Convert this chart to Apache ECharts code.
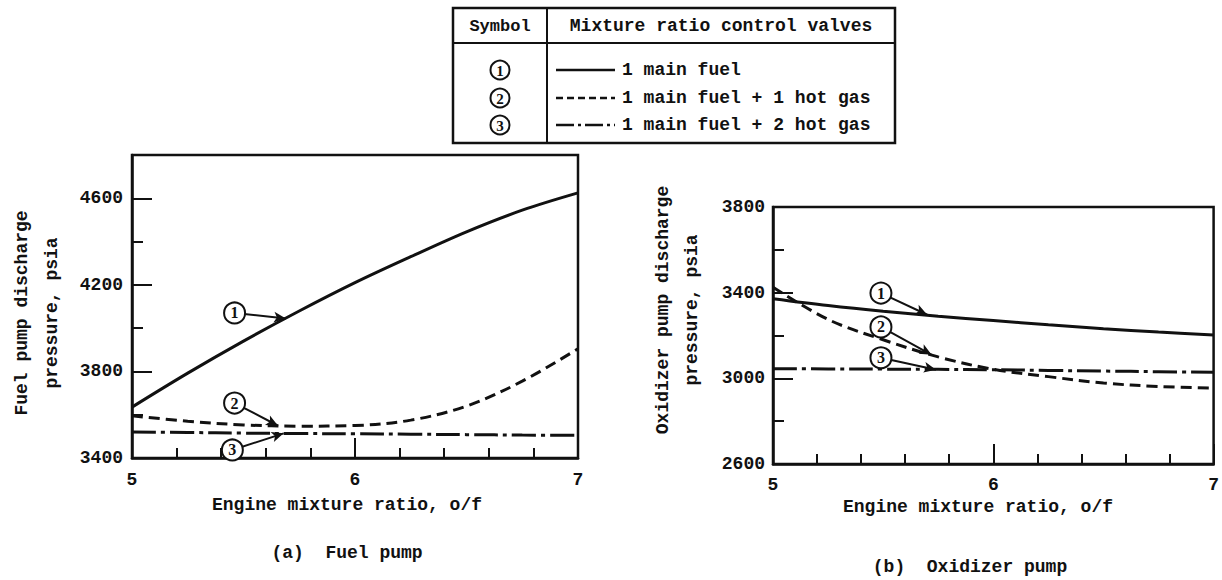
<!DOCTYPE html>
<html>
<head>
<meta charset="utf-8">
<script src="https://cdn.jsdelivr.net/npm/echarts@6/dist/echarts.min.js"></script>
<style>
  html, body { margin: 0; padding: 0; background: #fff; }
  #chart { width: 1222px; height: 580px; }
</style>
</head>
<body>
<div id="chart"></div>
<script>
// Engine mixture ratio, o/f
const mixtureRatio = [5, 5.25, 5.5, 5.75, 6, 6.25, 6.5, 6.75, 7];

// (a) Fuel pump discharge pressure, psia
const fuelMain    = [3635, 3792, 3940, 4079, 4210, 4330, 4445, 4545, 4625];
const fuelOneHot  = [3595, 3570, 3553, 3547, 3550, 3575, 3640, 3755, 3905];
const fuelTwoHot  = [3520, 3518, 3515, 3513, 3512, 3510, 3508, 3506, 3505];

// (b) Oxidizer pump discharge pressure, psia
const oxMain      = [3372, 3340, 3313, 3290, 3270, 3250, 3232, 3216, 3202];
const oxOneHot    = [3425, 3275, 3180, 3100, 3042, 3008, 2978, 2962, 2954];
const oxTwoHot    = [3045, 3044, 3043, 3042, 3040, 3037, 3034, 3031, 3028];

const valveSets   = ['1 main fuel', '1 main fuel + 1 hot gas', '1 main fuel + 2 hot gas'];
const symbolNums  = ['1', '2', '3'];
const fuelLabelTicks = [3400, 3800, 4200, 4600];

// callouts: [circle x, circle y, arrow tip x, arrow tip y] in data units
const fuelCallouts = [[5.46, 4070, 5.69, 4045], [5.46, 3654, 5.655, 3549], [5.45, 3437, 5.68, 3514]];
const oxCallouts   = [[5.49, 3398, 5.70, 3297], [5.49, 3240, 5.72, 3110], [5.49, 3096, 5.74, 3040]];

const INK = '#111';
const MONO = '"Liberation Mono", "DejaVu Sans Mono", monospace';
const SERIF = '"Liberation Serif", "DejaVu Serif", serif';
const dashStyles = ['solid', [11, 6], [24, 5, 4, 5]];

const chart = echarts.init(document.getElementById('chart'), null, { renderer: 'svg' });

function pairs(xs, ys) { return xs.map((x, i) => [x, ys[i]]); }

function curve(name, ys, gi, yi, k) {
  return {
    name, type: 'line', xAxisIndex: gi, yAxisIndex: yi,
    data: pairs(mixtureRatio, ys),
    smooth: 0.35, showSymbol: false, silent: true, z: 3,
    lineStyle: { color: INK, width: 3, type: dashStyles[k] }
  };
}

function callouts(list, gi, yi) {
  return [
    {
      type: 'line', xAxisIndex: gi, yAxisIndex: yi, data: [], silent: true, z: 4,
      markLine: {
        silent: true, animation: false, symbol: ['none', 'arrow'], symbolSize: [8, 12],
        label: { show: false },
        lineStyle: { color: INK, width: 2, type: 'solid', opacity: 1 },
        data: list.map(c => [{ coord: [c[0], c[1]] }, { coord: [c[2], c[3]] }])
      }
    },
    {
      type: 'scatter', xAxisIndex: gi, yAxisIndex: yi, silent: true, z: 6,
      data: list.map((c, i) => [c[0], c[1], symbolNums[i]]),
      symbol: 'circle', symbolSize: 21,
      itemStyle: { color: '#fff', borderColor: INK, borderWidth: 2, opacity: 1 },
      label: {
        show: true, position: 'inside', formatter: p => p.value[2],
        fontFamily: SERIF, fontSize: 16, fontWeight: 'bold', color: INK
      }
    }
  ];
}

const axisFont = { fontFamily: MONO, fontSize: 18, fontWeight: 'bold', color: INK };

function xAxisFor(gi, margin) {
  return {
    gridIndex: gi, type: 'value', position: 'bottom', min: 5, max: 7, interval: 1,
    axisLine: { show: true, lineStyle: { color: INK, width: 2.5 } },
    axisTick: { show: true, inside: true, length: 20, lineStyle: { color: INK, width: 2 } },
    minorTick: { show: true, splitNumber: 5, length: 10, lineStyle: { color: INK, width: 2 } },
    splitLine: { show: false }, minorSplitLine: { show: false },
    axisLabel: Object.assign({ margin, formatter: v => String(v) }, axisFont)
  };
}

// legend table (graphic)
const tbl = { x0: 453, x1: 895, y0: 8, y1: 143, head: 43, col: 547 };
const rowY = [70, 98, 125];
const legendGraphics = [
  { type: 'rect', shape: { x: tbl.x0, y: tbl.y0, width: tbl.x1 - tbl.x0, height: tbl.y1 - tbl.y0 },
    style: { fill: '#fff', stroke: INK, lineWidth: 2.5 } },
  { type: 'line', shape: { x1: tbl.x0, y1: tbl.head, x2: tbl.x1, y2: tbl.head }, style: { stroke: INK, lineWidth: 2 } },
  { type: 'line', shape: { x1: tbl.col, y1: tbl.y0, x2: tbl.col, y2: tbl.y1 }, style: { stroke: INK, lineWidth: 2 } },
  { type: 'text', x: 500, y: 26, style: { text: 'Symbol', font: 'bold 17px ' + MONO, fill: INK, align: 'center', verticalAlign: 'middle' } },
  { type: 'text', x: 721, y: 26, style: { text: 'Mixture ratio control valves', font: 'bold 18px ' + MONO, fill: INK, align: 'center', verticalAlign: 'middle' } }
];
valveSets.forEach((name, i) => {
  legendGraphics.push(
    { type: 'circle', shape: { cx: 500, cy: rowY[i], r: 9.5 }, style: { fill: '#fff', stroke: INK, lineWidth: 2 } },
    { type: 'text', x: 500, y: rowY[i] + 1, style: { text: symbolNums[i], font: 'bold 15px ' + SERIF, fill: INK, align: 'center', verticalAlign: 'middle' } },
    { type: 'line', shape: { x1: 556, y1: rowY[i], x2: 615, y2: rowY[i] },
      style: { stroke: INK, lineWidth: 2.5, lineDash: i === 0 ? null : (i === 1 ? [7, 4] : [18, 4, 3, 4]) } },
    { type: 'text', x: 622, y: rowY[i], style: { text: name, font: 'bold 18px ' + MONO, fill: INK, align: 'left', verticalAlign: 'middle' } }
  );
});

const titleFont = 'bold 18px ' + MONO;
const textGraphics = [
  { type: 'text', x: 37, y: 313, rotation: Math.PI / 2,
    style: { text: 'Fuel pump discharge\npressure, psia', font: titleFont, lineHeight: 30, fill: INK, align: 'center', verticalAlign: 'middle' } },
  { type: 'text', x: 677, y: 310, rotation: Math.PI / 2,
    style: { text: 'Oxidizer pump discharge\npressure, psia', font: titleFont, lineHeight: 29, fill: INK, align: 'center', verticalAlign: 'middle' } },
  { type: 'text', x: 347, y: 505, style: { text: 'Engine mixture ratio, o/f', font: titleFont, fill: INK, align: 'center', verticalAlign: 'middle' } },
  { type: 'text', x: 978, y: 507, style: { text: 'Engine mixture ratio, o/f', font: titleFont, fill: INK, align: 'center', verticalAlign: 'middle' } },
  { type: 'text', x: 347, y: 553, style: { text: '(a)  Fuel pump', font: titleFont, fill: INK, align: 'center', verticalAlign: 'middle' } },
  { type: 'text', x: 970, y: 567, style: { text: '(b)  Oxidizer pump', font: titleFont, fill: INK, align: 'center', verticalAlign: 'middle' } }
];

const option = {
  animation: false,
  backgroundColor: '#fff',
  grid: [
    { left: 132, top: 155, width: 446, height: 303, show: true, borderColor: INK, borderWidth: 2.5, backgroundColor: 'transparent' },
    { left: 773, top: 207, width: 444, height: 257, show: true, borderColor: INK, borderWidth: 2.5, backgroundColor: 'transparent' }
  ],
  xAxis: [xAxisFor(0, 13), xAxisFor(1, 12)],
  yAxis: [
    { gridIndex: 0, type: 'value', position: 'left', min: 3400, max: 4800, interval: 200,
      axisLine: { show: true, lineStyle: { color: INK, width: 2.5 } },
      axisTick: { show: true, inside: true, length: 11, lineStyle: { color: INK, width: 2 } },
      splitLine: { show: false },
      axisLabel: Object.assign({ margin: 9, formatter: v => fuelLabelTicks.indexOf(v) >= 0 ? String(v) : '' }, axisFont) },
    { gridIndex: 0, type: 'value', position: 'left', min: 3400, max: 4800, interval: 400,
      axisLine: { show: false },
      axisTick: { show: true, inside: true, length: 20, lineStyle: { color: INK, width: 2 } },
      splitLine: { show: false }, axisLabel: { show: false } },
    { gridIndex: 1, type: 'value', position: 'left', min: 2600, max: 3800, interval: 400,
      axisLine: { show: true, lineStyle: { color: INK, width: 2.5 } },
      axisTick: { show: true, inside: true, length: 20, lineStyle: { color: INK, width: 2 } },
      minorTick: { show: true, splitNumber: 2, length: 11, lineStyle: { color: INK, width: 2 } },
      splitLine: { show: false }, minorSplitLine: { show: false },
      axisLabel: Object.assign({ margin: 8, formatter: v => String(v) }, axisFont) }
  ],
  series: [
    curve(valveSets[0], fuelMain, 0, 0, 0),
    curve(valveSets[1], fuelOneHot, 0, 0, 1),
    curve(valveSets[2], fuelTwoHot, 0, 0, 2),
    curve(valveSets[0], oxMain, 1, 2, 0),
    curve(valveSets[1], oxOneHot, 1, 2, 1),
    curve(valveSets[2], oxTwoHot, 1, 2, 2),
    ...callouts(fuelCallouts, 0, 0),
    ...callouts(oxCallouts, 1, 2)
  ],
  graphic: legendGraphics.concat(textGraphics)
};

chart.setOption(option);
</script>
</body>
</html>
